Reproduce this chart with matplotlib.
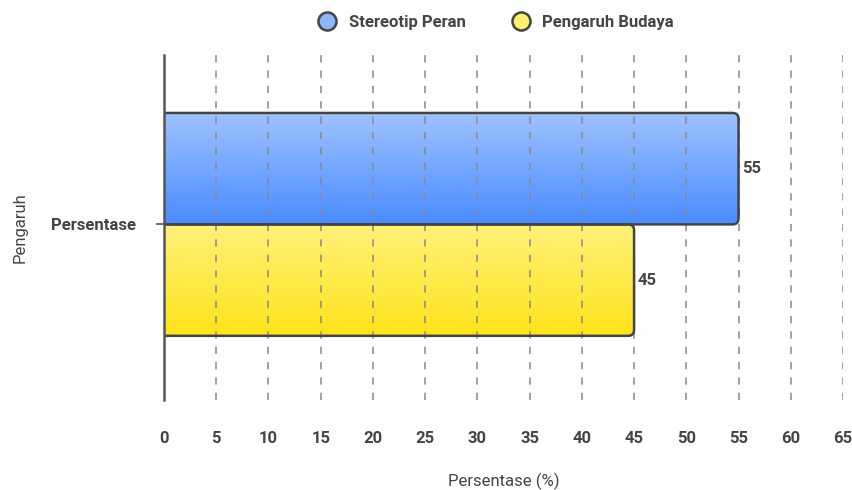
import numpy as np
import matplotlib
matplotlib.use("Agg")
import matplotlib.pyplot as plt
from matplotlib.patches import FancyBboxPatch
from matplotlib.colors import LinearSegmentedColormap
from matplotlib.lines import Line2D

plt.rcParams['font.family'] = ['Roboto', 'DejaVu Sans']

# Data
category = "Persentase"
series_names = ["Stereotip Peran", "Pengaruh Budaya"]
series_values = [55, 45]
x_ticks = list(range(0, 70, 5))

# Styles
top_colors = ["#9fc2ff", "#fff17a"]
bottom_colors = ["#4a8cff", "#ffe31a"]
legend_colors = ["#8fb5ff", "#fff06e"]
edge_color = "#444444"
text_color = "#444444"

W, H = 853, 490
fig = plt.figure(figsize=(W / 100, H / 100), dpi=100)
ax_left, ax_right, ax_top, ax_bottom = 164, 843, 55, 400
ax = fig.add_axes([ax_left / W, (H - ax_bottom) / H,
                   (ax_right - ax_left) / W, (ax_bottom - ax_top) / H])
y_lo, y_hi = -0.509, 0.491
ax.set_xlim(0, 65)
ax.set_ylim(y_lo, y_hi)

bar_h = 0.323
offsets = [bar_h / 2, -bar_h / 2]

# pixel scale of each axis, for rounded corners that stay circular
px_per_x = (ax_right - ax_left) / 65.0
px_per_y = (ax_bottom - ax_top) / (y_hi - y_lo)
radius_x = 6 / px_per_x
mut_aspect = (1 / px_per_y) / (1 / px_per_x)

for name, val, off, ctop, cbot in zip(series_names, series_values, offsets,
                                      top_colors, bottom_colors):
    y0 = off - bar_h / 2
    x0 = -2.0
    patch = FancyBboxPatch((x0, y0), val - x0, bar_h,
                           boxstyle=f"round,pad=0,rounding_size={radius_x}",
                           mutation_aspect=mut_aspect,
                           facecolor="none", edgecolor=edge_color,
                           linewidth=1.8, zorder=4)
    ax.add_patch(patch)
    cmap = LinearSegmentedColormap.from_list(name, [cbot, ctop])
    grad = np.linspace(0, 1, 256).reshape(-1, 1)
    im = ax.imshow(grad, cmap=cmap, aspect="auto", origin="lower",
                   extent=(x0, val, y0, y0 + bar_h), zorder=2)
    im.set_clip_path(patch)
    ax.text(val + 0.35, off, f"{val}", va="center", ha="left",
            fontsize=12, fontweight="bold", color=text_color, zorder=5)

ax.set_xlim(0, 65)
ax.set_ylim(y_lo, y_hi)

# Dashed vertical grid drawn over the bars
ax.set_xticks(x_ticks)
ax.set_xticklabels([str(t) for t in x_ticks])
for t in x_ticks[1:]:
    ax.axvline(t, color="#8a8a8a", linewidth=1.3, linestyle=(0, (4, 4.5)),
               alpha=0.85, zorder=3)

ax.set_yticks([0])
ax.set_yticklabels([category])

for s in ["top", "right", "bottom"]:
    ax.spines[s].set_visible(False)
ax.spines["left"].set_color("#555555")
ax.spines["left"].set_linewidth(1.8)
ax.spines["left"].set_zorder(6)

ax.tick_params(axis="x", length=0, pad=22, labelsize=12, labelcolor=text_color)
ax.tick_params(axis="y", length=6, width=1.2, color="#555555", pad=14,
               labelsize=12, labelcolor=text_color)
for lbl in ax.get_xticklabels() + ax.get_yticklabels():
    lbl.set_fontweight("bold")

ax.set_xlabel("Persentase (%)", fontsize=12, color=text_color)
ax.xaxis.set_label_coords(0.5, -(481 - ax_bottom) / (ax_bottom - ax_top))
ax.xaxis.label.set_va("center")
ax.set_ylabel("Pengaruh", fontsize=12, color=text_color)
ax.yaxis.set_label_coords((20 - ax_left) / (ax_right - ax_left), 0.5)
ax.yaxis.label.set_va("center")

handles = [Line2D([], [], marker="o", linestyle="none", markersize=13,
                  markerfacecolor=c, markeredgecolor=edge_color,
                  markeredgewidth=1.8) for c in legend_colors]
leg = fig.legend(handles, series_names, loc="center", ncol=2,
                 bbox_to_anchor=(0.577, 1 - 22 / H), frameon=False,
                 handletextpad=0.3, columnspacing=2.3,
                 prop={"weight": "bold", "size": 12})
for t in leg.get_texts():
    t.set_color(text_color)

fig.savefig("out.png", dpi=100)
